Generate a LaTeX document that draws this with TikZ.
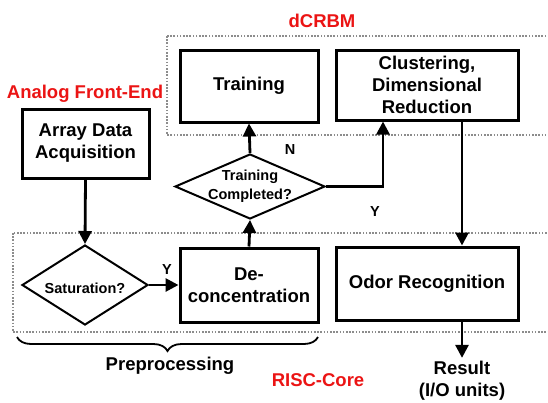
\documentclass[tikz,border=0pt]{standalone}
\usepackage{fontspec}
\setmainfont{Liberation Sans}
\usetikzlibrary{arrows.meta,shapes.geometric,decorations.pathreplacing}
\definecolor{labelred}{RGB}{235,20,20}
\definecolor{zonegray}{RGB}{140,140,140}

\begin{document}
\begin{tikzpicture}[x=1pt,y=-1pt,
  big/.style={font=\fontsize{18.5}{22}\selectfont\bfseries},
  small/.style={font=\fontsize{14.5}{19}\selectfont\bfseries},
  stepbox/.style={draw, line width=3pt, align=center, big, inner sep=0pt},
  decision/.style={draw, line width=2pt, shape=diamond, inner sep=0pt},
  dtext/.style={small, align=center},
  flow/.style={line width=2.8pt, -{Triangle[length=13pt,width=13pt]}},
  zone/.style={draw=zonegray, line width=1.8pt, dash pattern=on 1.6pt off 1.6pt},
  zonelabel/.style={big, text=labelred},
]
\clip (0,0) rectangle (548,402);

% functional zones (dotted)
\draw[zone] (167,36) rectangle (600,135);
\draw[zone] (13,233) rectangle (600,332);
\node[zonelabel] (lbl-dcrbm) at (322,21) {dCRBM};
\node[zonelabel] (lbl-afe) at (85,94) {Analog Front-End};
\node[zonelabel] (lbl-risc) at (318,380) {RISC-Core};

% process boxes
\node[stepbox, minimum width=138pt, minimum height=72pt] (train) at (249,86) {Training};
\node[stepbox, minimum width=182pt, minimum height=70pt] (clust) at (427,85) {Clustering,\\Dimensional\\Reduction};
\node[stepbox, minimum width=127pt, minimum height=69pt] (acq) at (85.5,143.5) {Array Data\\Acquisition};
\node[stepbox, minimum width=138pt, minimum height=74pt] (decon) at (249,285) {De-\\concentration};
\node[stepbox, minimum width=182pt, minimum height=73pt] (odor) at (427,283.5) {Odor Recognition};

% decisions
\node[decision, minimum width=150pt, minimum height=65pt,
      label={[dtext]center:Training\\Completed?}] (tc) at (250,186.5) {};
\node[decision, minimum width=126pt, minimum height=80pt,
      label={[dtext, yshift=-3pt]center:Saturation?}] (sat) at (85,285) {};

% output
\node[big, align=center] (result) at (462,381) {Result\\(I/O units)};

% helper coordinates for offset connectors
\coordinate (clx) at (383,0);
\coordinate (odx) at (462,0);

% connectors
\draw[flow] (acq.south) -- (sat.north);
\draw[flow] (sat.east) -- (decon.west);
\draw[flow] (decon.north) -- (tc.south);
\draw[flow] (tc.north) -- (train.south);
\draw[flow] (tc.east) -| (clust.south -| clx);
\draw[flow] (clust.south -| odx) -- (odor.north -| odx);
\draw[flow] (odor.south -| odx) -- (result.north -| odx);

% branch labels
\node[small] (lbl-n) at (290,150) {N};
\node[small] (lbl-y1) at (375,212) {Y};
\node[small] (lbl-y2) at (167,270) {Y};

% preprocessing brace
\coordinate (br-l) at (17,337);
\coordinate (br-r) at (318,337);
\draw[line width=1.8pt, decorate, decoration={brace, mirror, amplitude=14pt}] (br-l) -- (br-r);
\node[big] (lbl-pre) at (170,366) {Preprocessing};
\end{tikzpicture}
\end{document}
